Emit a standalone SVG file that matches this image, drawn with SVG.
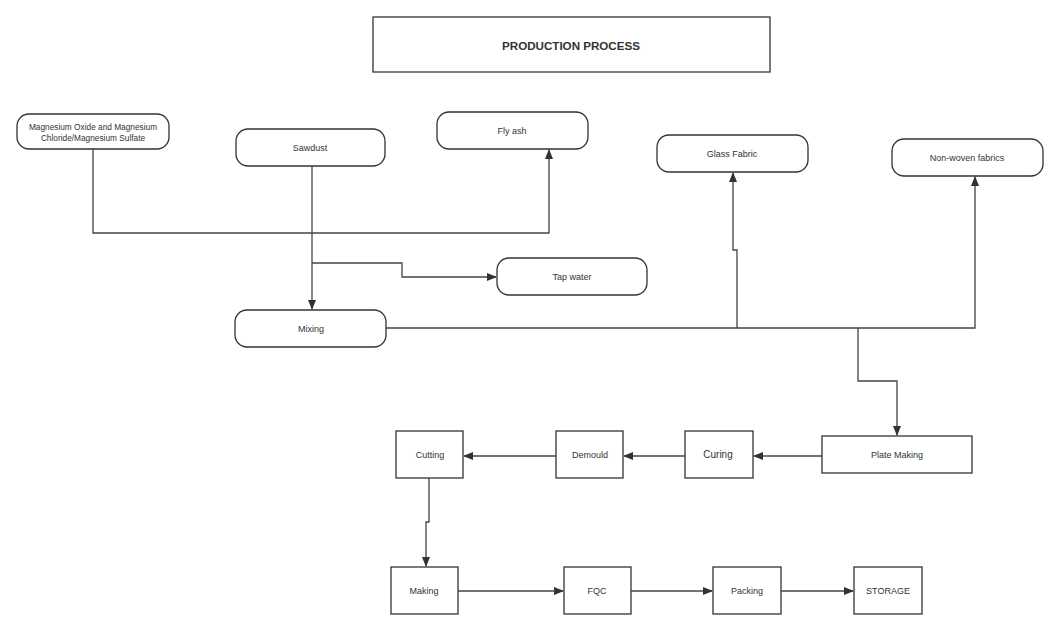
<svg xmlns="http://www.w3.org/2000/svg" width="1060" height="631" viewBox="0 0 1060 631">
<defs>
<marker id="ah" markerWidth="10" markerHeight="8" refX="9" refY="4" orient="auto" markerUnits="userSpaceOnUse">
<path d="M0,0 L10,4 L0,8 Z" fill="#333"/>
</marker>
<style>
.n{fill:#fff;stroke:#333;stroke-width:1.3}
.t{font-family:"Liberation Sans",Arial,sans-serif;font-size:9px;fill:#333;text-anchor:middle;dominant-baseline:central}
.c{fill:none;stroke:#444;stroke-width:1.3}
.a{marker-end:url(#ah)}
</style>
</defs>
<rect width="1060" height="631" fill="#fff"/>
<g id="title"><rect class="n" x="373" y="17" width="397" height="55"/><text class="t" x="571" y="45" style="font-weight:bold;font-size:11.6px">PRODUCTION PROCESS</text></g>
<g id="mg"><rect class="n" x="17" y="114" width="152" height="35" rx="12"/><text class="t" x="93" y="127" style="font-size:8.3px">Magnesium Oxide and Magnesium</text><text class="t" x="93" y="138" style="font-size:8.3px">Chloride/Magnesium Sulfate</text></g>
<g id="sawdust"><rect class="n" x="236" y="129" width="149" height="37" rx="12"/><text class="t" x="310" y="148">Sawdust</text></g>
<g id="flyash"><rect class="n" x="437" y="112" width="151" height="37" rx="12"/><text class="t" x="512" y="131">Fly ash</text></g>
<g id="glass"><rect class="n" x="657" y="135" width="151" height="37" rx="12"/><text class="t" x="732" y="154">Glass Fabric</text></g>
<g id="nonwoven"><rect class="n" x="892" y="139" width="151" height="37" rx="12"/><text class="t" x="967" y="158">Non-woven fabrics</text></g>
<g id="tapwater"><rect class="n" x="497" y="258" width="150" height="37" rx="12"/><text class="t" x="572" y="277">Tap water</text></g>
<g id="mixing"><rect class="n" x="235" y="310" width="151" height="37" rx="12"/><text class="t" x="311" y="329">Mixing</text></g>
<g id="plate"><rect class="n" x="822" y="436" width="150" height="37"/><text class="t" x="897" y="455">Plate Making</text></g>
<g id="curing"><rect class="n" x="685" y="431" width="68" height="47"/><text class="t" x="718" y="454" style="font-size:10px">Curing</text></g>
<g id="demould"><rect class="n" x="556" y="431" width="67" height="47"/><text class="t" x="590" y="455">Demould</text></g>
<g id="cutting"><rect class="n" x="396" y="431" width="67" height="47"/><text class="t" x="430" y="455">Cutting</text></g>
<g id="making"><rect class="n" x="391" y="567" width="67" height="47"/><text class="t" x="424" y="591">Making</text></g>
<g id="fqc"><rect class="n" x="564" y="567" width="67" height="47"/><text class="t" x="597" y="591">FQC</text></g>
<g id="packing"><rect class="n" x="713" y="567" width="68" height="47"/><text class="t" x="747" y="591">Packing</text></g>
<g id="storage"><rect class="n" x="854" y="567" width="68" height="47"/><text class="t" x="888" y="591">STORAGE</text></g>
<g id="connectors">
<path class="c a" d="M93,149 V233 H549 V150"/>
<path class="c a" d="M312,166 V309"/>
<path class="c a" d="M312,263 H402 V277 H496"/>
<path class="c a" d="M386,328 H975 V177"/>
<path class="c a" d="M737,328 V250 H733 V173"/>
<path class="c a" d="M858,328 V381 H897 V435"/>
<path class="c a" d="M822,456 H754"/>
<path class="c a" d="M685,456 H624"/>
<path class="c a" d="M556,456 H464"/>
<path class="c a" d="M429,478 V522 H426 V566"/>
<path class="c a" d="M458,591 H563"/>
<path class="c a" d="M631,591 H712"/>
<path class="c a" d="M781,591 H853"/>
</g>
</svg>
